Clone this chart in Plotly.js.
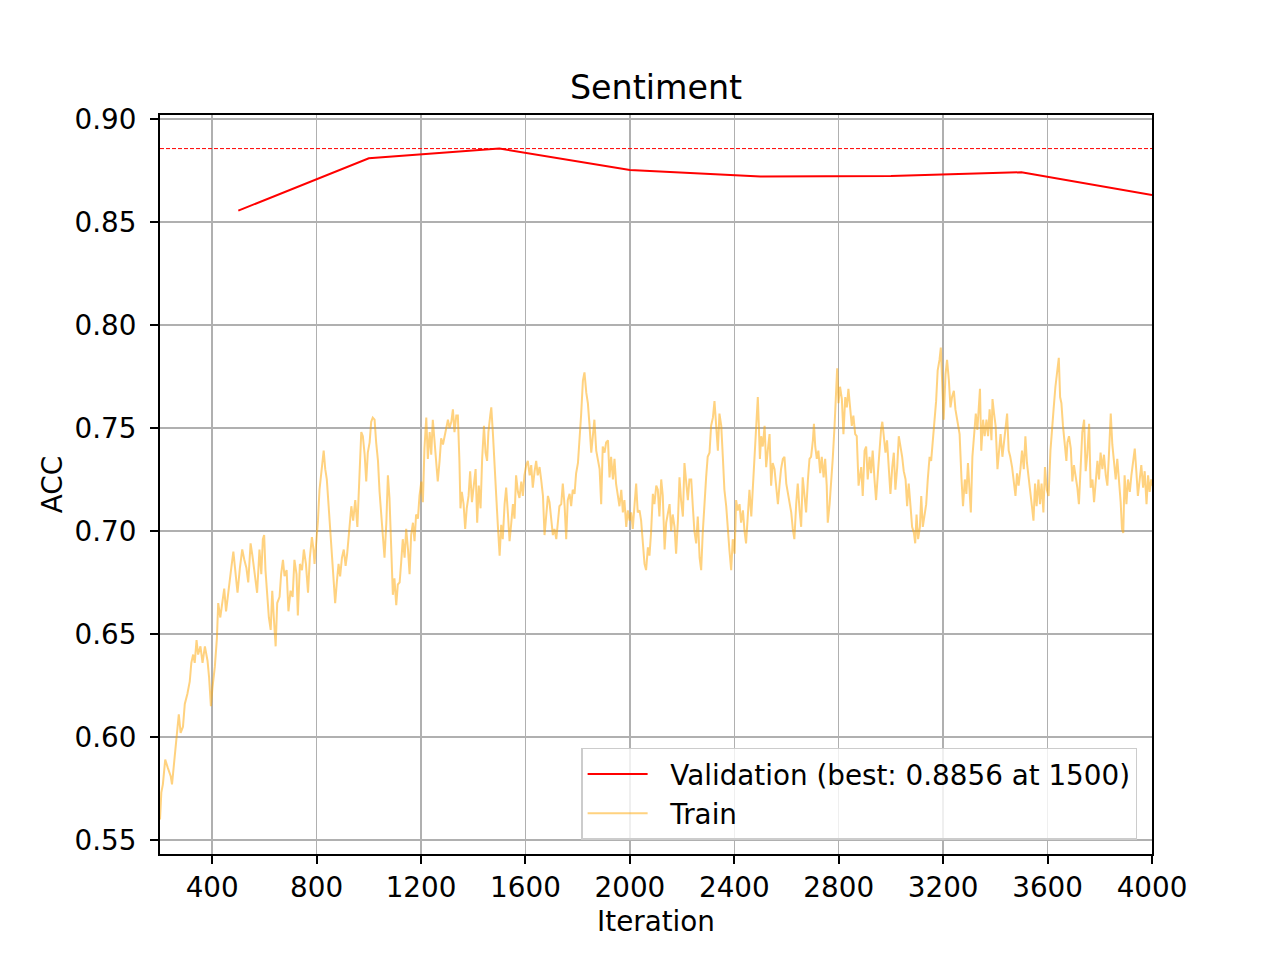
<!DOCTYPE html>
<html>
<head>
<meta charset="utf-8">
<script src="https://cdn.plot.ly/plotly-3.0.1.min.js"></script>
<style>html,body{margin:0;padding:0;background:#fff;}#chart{width:1280px;height:960px;}</style>
</head>
<body>
<div id="chart"></div>
<script>
const valIter = [500, 1000, 1500, 2000, 2500, 3000, 3500, 4000];
const valAcc = [0.8555, 0.8809, 0.8856, 0.8752, 0.8720, 0.8723, 0.8741, 0.8631];

const trainIter = [200,205,211,220,230,241,246,253,259,265,272,279,288,295,305,314,320,327,333,340,346,355,363,372,382,388,395,401,410,418,423,431,438,446,453,462,472,481,490,497,506,515,523,531,538,547,554,564,572,
581,588,594,599,604,611,617,624,630,636,643,649,658,664,671,677,685,692,700,708,715,723,728,736,744,751,759,767,774,782,788,792,805,811,820,827,833,839,846,852,858,865,871,878,884,890,897,904,911,917,924,933,940,948,956,
964,971,977,984,990,996,1003,1009,1015,1022,1028,1035,1041,1047,1054,1060,1067,1073,1079,1086,1092,1098,1105,1111,1118,1124,1130,1137,1143,1150,1156,1162,1169,1175,1181,1188,1194,1201,1207,1213,1220,1226,1233,1239,1245,1252,1258,1264,1271,1277,1284,1290,1296,1303,1309,1316,1322,1328,1335,
1341,1347,1351,1356,1363,1369,1375,1382,1388,1395,1402,1409,1415,1421,1428,1434,1441,1447,1453,1458,1465,1469,1475,1481,1488,1494,1501,1507,1513,1520,1526,1533,1539,1545,1552,1558,1564,1571,1577,1584,1590,1596,1603,1609,1616,1622,1628,1635,1641,1647,1654,1660,1667,1673,1679,1686,1692,1698,1705,1711,1718,1724,
1730,1737,1743,1750,1756,1762,1769,1775,1781,1788,1794,1801,1807,1813,1820,1826,1833,1839,1845,1852,1858,1864,1871,1877,1884,1890,1896,1903,1909,1916,1922,1928,1935,1941,1947,1954,1960,1967,1973,1979,1986,1992,1999,2005,2011,2018,2024,2030,2037,2043,2050,2056,2062,2069,2075,2081,2088,2094,2101,
2107,2113,2120,2126,2133,2139,2145,2152,2158,2164,2171,2177,2184,2190,2196,2203,2209,2216,2222,2228,2235,2241,2247,2254,2260,2267,2273,2279,2286,2292,2298,2305,2311,2318,2324,2330,2337,2343,2350,2356,2362,2369,2375,2381,2388,2394,2401,2407,2413,2420,2426,2433,2439,2445,2452,2458,2465,2471,2477,2484,
2490,2494,2498,2503,2509,2516,2522,2528,2535,2541,2547,2554,2560,2567,2573,2579,2586,2592,2599,2605,2611,2618,2624,2630,2637,2643,2650,2656,2662,2669,2675,2682,2688,2694,2701,2705,2710,2716,2722,2729,2735,2742,2748,2754,2758,2765,2771,2777,2784,2789,2794,2799,2805,2812,2818,2825,2831,2837,2844,2850,2856,2863,2869,
2876,2886,2892,2899,2905,2911,2918,2924,2930,2937,2943,2950,2956,2962,2967,2973,2979,2985,2992,2998,3005,3011,3017,3024,3030,3036,3043,3049,3056,3062,3068,3075,3081,3088,3093,3098,3104,3111,3116,3122,3128,3135,3141,3148,3154,3160,3167,3173,3179,3186,3191,3196,3202,3209,3215,3222,3228,3234,3241,3247,3254,
3258,3263,3270,3276,3283,3289,3295,3302,3306,3312,3318,3325,3331,3336,3341,3346,3353,3359,3366,3372,3378,3385,3389,3395,3401,3408,3414,3420,3427,3433,3440,3445,3451,3457,3464,3470,3477,3483,3489,3496,3502,3509,3515,3521,3528,3534,3540,3546,3552,3558,3565,3571,3577,3584,3590,3597,3604,3611,3617,3623,3630,3636,3643,
3648,3653,3659,3666,3672,3676,3682,3689,3695,3701,3708,3714,3720,3727,3733,3740,3746,3752,3759,3765,3772,3778,3784,3791,3797,3803,3810,3816,3823,3829,3835,3842,3848,3855,3861,3867,3874,3880,3885,3890,3895,3902,3908,3915,3921,3927,3934,3940,3946,3953,3959,3966,3972,3979,3985,3991,3997,4000];

const trainAcc = [0.560,0.573,0.577,0.589,0.585,0.581,0.577,0.587,0.595,0.605,0.611,0.602,0.605,0.616,0.621,0.627,0.636,0.640,0.636,0.647,0.640,0.644,0.636,0.644,0.637,0.629,0.615,0.624,0.634,0.648,0.665,0.658,0.666,0.672,0.661,0.672,0.681,0.690,0.679,0.670,0.682,0.691,0.686,0.682,0.675,0.694,0.688,0.679,0.670,
0.691,0.679,0.696,0.698,0.681,0.668,0.658,0.652,0.671,0.658,0.644,0.665,0.668,0.679,0.686,0.678,0.681,0.661,0.671,0.668,0.686,0.679,0.659,0.684,0.681,0.691,0.684,0.670,0.687,0.697,0.691,0.684,0.705,0.720,0.733,0.739,0.730,0.725,0.712,0.700,0.692,0.678,0.665,0.676,0.684,0.678,0.687,0.691,0.683,0.689,0.700,0.712,0.705,0.715,0.702,
0.730,0.748,0.746,0.737,0.724,0.738,0.743,0.753,0.755,0.754,0.743,0.734,0.719,0.709,0.696,0.687,0.704,0.727,0.716,0.685,0.669,0.677,0.664,0.674,0.675,0.685,0.696,0.687,0.701,0.691,0.679,0.698,0.704,0.695,0.708,0.706,0.717,0.724,0.714,0.740,0.755,0.735,0.748,0.737,0.754,0.743,0.735,0.724,0.734,0.745,0.742,0.746,0.751,0.754,0.750,0.753,0.759,0.748,0.756,
0.756,0.734,0.711,0.719,0.713,0.701,0.711,0.717,0.729,0.714,0.724,0.730,0.704,0.722,0.711,0.735,0.751,0.738,0.734,0.748,0.756,0.760,0.748,0.730,0.717,0.703,0.688,0.703,0.696,0.713,0.721,0.708,0.695,0.703,0.713,0.706,0.727,0.719,0.716,0.724,0.717,0.727,0.732,0.734,0.727,0.732,0.721,0.729,0.734,0.727,0.731,0.725,0.717,0.698,0.708,0.717,0.714,0.706,0.698,0.701,0.696,0.704,
0.712,0.713,0.723,0.712,0.696,0.715,0.718,0.712,0.720,0.718,0.728,0.733,0.743,0.756,0.773,0.777,0.767,0.762,0.752,0.738,0.746,0.754,0.739,0.735,0.730,0.713,0.741,0.738,0.743,0.744,0.726,0.736,0.725,0.735,0.723,0.717,0.712,0.720,0.709,0.715,0.702,0.710,0.705,0.709,0.701,0.713,0.723,0.709,0.710,0.705,0.692,0.684,0.681,0.692,0.688,0.699,0.718,0.713,0.722,
0.720,0.707,0.725,0.717,0.691,0.704,0.708,0.713,0.700,0.708,0.702,0.689,0.705,0.726,0.715,0.707,0.733,0.723,0.715,0.725,0.725,0.712,0.700,0.694,0.707,0.687,0.681,0.699,0.717,0.726,0.736,0.738,0.751,0.755,0.763,0.752,0.739,0.757,0.751,0.736,0.720,0.712,0.699,0.691,0.681,0.696,0.689,0.715,0.710,0.713,0.704,0.710,0.700,0.694,0.708,0.720,0.707,0.721,0.736,0.755,
0.765,0.751,0.735,0.746,0.741,0.751,0.731,0.739,0.747,0.722,0.733,0.730,0.723,0.713,0.722,0.730,0.735,0.736,0.723,0.718,0.713,0.709,0.701,0.696,0.713,0.723,0.710,0.702,0.726,0.718,0.709,0.725,0.735,0.736,0.744,0.752,0.741,0.735,0.739,0.728,0.736,0.726,0.735,0.722,0.704,0.713,0.722,0.735,0.751,0.767,0.779,0.762,0.770,0.764,0.747,0.765,0.760,0.769,0.759,0.751,0.756,0.747,0.746,
0.722,0.731,0.717,0.739,0.741,0.725,0.736,0.728,0.739,0.725,0.715,0.728,0.739,0.749,0.753,0.744,0.738,0.744,0.731,0.718,0.731,0.738,0.720,0.731,0.746,0.742,0.736,0.729,0.725,0.712,0.723,0.712,0.702,0.699,0.694,0.708,0.696,0.702,0.717,0.702,0.708,0.713,0.725,0.736,0.734,0.744,0.752,0.763,0.778,0.783,0.789,0.772,0.754,0.776,0.783,0.773,0.760,0.765,0.768,0.759,0.754,
0.752,0.747,0.726,0.712,0.725,0.718,0.733,0.720,0.709,0.736,0.747,0.757,0.749,0.762,0.769,0.739,0.754,0.746,0.754,0.746,0.759,0.744,0.764,0.757,0.751,0.730,0.739,0.747,0.736,0.743,0.751,0.757,0.739,0.736,0.731,0.723,0.717,0.728,0.722,0.730,0.739,0.730,0.746,0.733,0.726,0.720,0.712,0.705,0.723,0.712,0.725,0.713,0.723,0.709,0.731,0.720,0.717,0.739,0.752,0.759,0.770,0.778,0.784,
0.765,0.762,0.751,0.742,0.734,0.743,0.746,0.740,0.724,0.732,0.727,0.721,0.713,0.734,0.748,0.754,0.729,0.737,0.752,0.721,0.725,0.714,0.724,0.734,0.725,0.738,0.730,0.737,0.727,0.722,0.737,0.757,0.742,0.732,0.725,0.735,0.725,0.714,0.701,0.699,0.727,0.713,0.725,0.719,0.727,0.734,0.740,0.729,0.717,0.725,0.732,0.721,0.729,0.713,0.727,0.719,0.725,0.722];

const xTicks = [400, 800, 1200, 1600, 2000, 2400, 2800, 3200, 3600, 4000];
const yTicks = [0.55, 0.60, 0.65, 0.70, 0.75, 0.80, 0.85, 0.90];

const bestVal = Math.max(...valAcc);
const bestIter = valIter[valAcc.indexOf(bestVal)];

const FONT = "DejaVu Sans, Liberation Sans, sans-serif";
const PAD = '\u00a0\u00a0';

const traces = [
  {
    x: trainIter, y: trainAcc, type: 'scatter', mode: 'lines', name: PAD + 'Train',
    line: {color: 'rgba(255,165,0,0.5)', width: 2}, legendrank: 2, hoverinfo: 'skip'
  },
  {
    x: valIter, y: valAcc, type: 'scatter', mode: 'lines',
    name: PAD + 'Validation (best: ' + bestVal.toFixed(4) + ' at ' + bestIter + ')',
    line: {color: 'red', width: 2}, legendrank: 1
  }
];

const axisCommon = {
  showgrid: true, gridcolor: '#b0b0b0', gridwidth: 1.5,
  showline: true, linecolor: 'black', linewidth: 2, mirror: true,
  ticks: 'outside', ticklen: 8, tickwidth: 2, tickcolor: 'black',
  zeroline: false, tickfont: {family: FONT, size: 27.8, color: 'black'}
};

const layout = {
  width: 1280, height: 960,
  margin: {l: 160, r: 128, t: 115, b: 106, autoexpand: false},
  paper_bgcolor: 'white', plot_bgcolor: 'white',
  font: {family: FONT, color: 'black'},
  title: {text: 'Sentiment', font: {family: FONT, size: 33.3, color: 'black'},
          x: 0.5, xref: 'paper', xanchor: 'center', y: 1 - 87/960, yref: 'container', yanchor: 'middle'},
  xaxis: Object.assign({}, axisCommon, {
    range: [200, 4000], tickmode: 'array', tickvals: xTicks, ticktext: xTicks.map(String),
    title: {text: 'Iteration', font: {family: FONT, size: 27.8, color: 'black'}, standoff: 8},
    automargin: false
  }),
  yaxis: Object.assign({}, axisCommon, {
    range: [0.5432, 0.9019], tickmode: 'array', tickvals: yTicks, ticktext: yTicks.map(v => v.toFixed(2)),
    ticklabelstandoff: 8,
    title: {text: 'ACC', font: {family: FONT, size: 27.8, color: 'black'}, standoff: 4},
    automargin: false
  }),
  showlegend: true,
  legend: {
    x: 0.985, xanchor: 'right', y: 0.019, yanchor: 'bottom',
    bgcolor: 'rgba(255,255,255,0.8)', bordercolor: '#cccccc', borderwidth: 1.5,
    font: {family: FONT, size: 27.8, color: 'black'}, itemwidth: 60
  },
  shapes: [{
    type: 'line', xref: 'paper', x0: 0, x1: 1, yref: 'y', y0: bestVal, y1: bestVal,
    line: {color: 'red', width: 1, dash: '4px,2px'}, layer: 'above'
  }]
};

Plotly.newPlot('chart', traces, layout, {displayModeBar: false, staticPlot: true});
</script>
</body>
</html>
